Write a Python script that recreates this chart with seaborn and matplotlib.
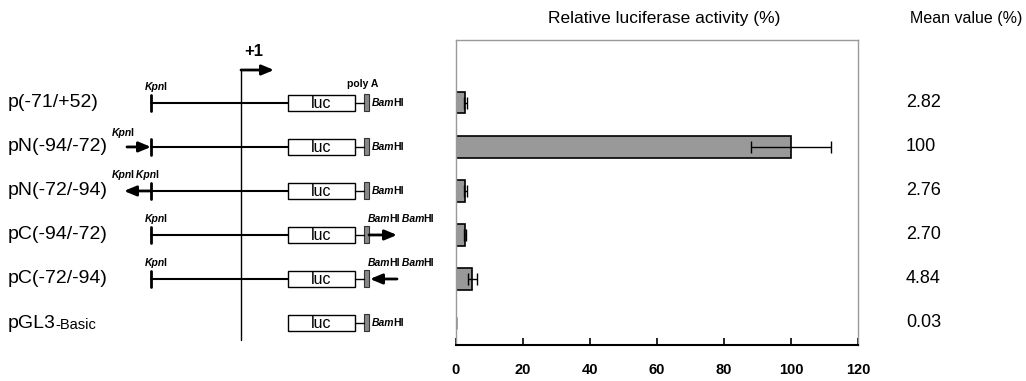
"""Promoter deletion constructs and relative luciferase activity."""

import matplotlib.pyplot as plt
import pandas as pd
import seaborn as sns
from matplotlib.patches import Rectangle

sns.set_theme(style="white")
plt.rcParams["font.family"] = ["Liberation Sans", "DejaVu Sans"]
plt.rcParams["text.color"] = "black"

# DATA
constructs = ["p(-71/+52)", "pN(-94/-72)", "pN(-72/-94)",
              "pC(-94/-72)", "pC(-72/-94)", "pGL3-Basic"]
activity = [2.82, 100, 2.76, 2.70, 4.84, 0.03]
errors = [0.4, 12, 0.5, 0.2, 1.3, 0.0]
mean_labels = ["2.82", "100", "2.76", "2.70", "4.84", "0.03"]
insert_site = ["", "N", "N", "C", "C", ""]  # where the -94/-72 fragment sits
insert_dir = ["", "fwd", "rev", "fwd", "rev", ""]
has_promoter = [True, True, True, True, True, False]
x_ticks = [0, 20, 40, 60, 80, 100, 120]

W, H = 1026, 381
fig = plt.figure(figsize=(W / 100, H / 100), dpi=100)

# BAR CHART
ax = fig.add_axes([456 / W, 36 / H, 402 / W, 305 / H])
df = pd.DataFrame({"Construct": constructs, "Activity": activity})
sns.barplot(data=df, x="Activity", y="Construct", orient="h", color="#999999",
            saturation=1, edgecolor="black", linewidth=1.2, width=0.48, ax=ax)
ax.errorbar(activity, range(len(activity)), xerr=errors, fmt="none",
            ecolor="black", elinewidth=1, capsize=4.3, capthick=1)
ax.set_xlim(0, 120)
ax.set_ylim(5.5, -1.43)
ax.set_xticks(x_ticks)
ax.set_xticklabels([str(t) for t in x_ticks], fontsize=10.5, fontweight="bold")
ax.set_yticks([])
ax.set(xlabel="", ylabel="")
ax.tick_params(axis="x", direction="in", length=5, width=1.2, pad=13,
               bottom=True, colors="black")
for side in ["top", "right", "left"]:
    ax.spines[side].set_color("#999999")
    ax.spines[side].set_linewidth(1)
ax.spines["bottom"].set_color("black")
ax.spines["bottom"].set_linewidth(1.5)

# row positions in pixels, taken from the bar axis
row_y = [H - ax.transData.transform((0, i))[1] for i in range(len(constructs))]

# DIAGRAM (pixel coordinates)
dg = fig.add_axes([0, 0, 1, 1], zorder=-1)
dg.set_xlim(0, W)
dg.set_ylim(H, 0)
dg.axis("off")

TXT = 14
SMALL = 7.5


def enzyme(x, y, names, va="bottom"):
    """Draw e.g. [('Kpn', 'I')] as italic + regular pieces, left to right."""
    anchor = None
    for k, (it, rest) in enumerate(names):
        if anchor is None:
            t = dg.text(x, y, it, fontsize=SMALL, style="italic",
                        fontweight="bold", va=va, ha="left")
        else:
            t = dg.annotate(" " + it, xy=(1, 0), xycoords=anchor, fontsize=SMALL,
                            style="italic", fontweight="bold", va="bottom", ha="left")
        anchor = dg.annotate(rest, xy=(1, 0), xycoords=t, xytext=(-1.2, 0),
                             textcoords="offset points", fontsize=SMALL,
                             fontweight="bold", va="bottom", ha="left")


def arrow(x0, x1, y):
    dg.annotate("", xy=(x1, y), xytext=(x0, y),
                arrowprops=dict(arrowstyle="-|>,head_length=0.6,head_width=0.25",
                                color="black", lw=2, shrinkA=0, shrinkB=0))


# transcription start
dg.plot([241, 241], [70, 340], color="black", lw=1)
arrow(241, 274, 70)
dg.text(254, 52, "+1", fontsize=12, fontweight="bold", ha="center", va="center")
dg.text(363, row_y[0] - 19, "poly A", fontsize=SMALL, fontweight="bold",
        ha="center", va="center")

for i, name in enumerate(constructs):
    y = row_y[i]
    if name == "pGL3-Basic":
        t = dg.text(8, y + 9, "pGL3", fontsize=TXT, va="bottom", ha="left")
        dg.annotate("-Basic", xy=(1, 0), xycoords=t, fontsize=10.5,
                    va="bottom", ha="left")
    else:
        dg.text(8, y, name, fontsize=TXT, va="center", ha="left")

    if has_promoter[i]:
        dg.plot([151, 288], [y, y], color="black", lw=1.5)
        dg.plot([151, 151], [y - 8, y + 8], color="black", lw=2)
    dg.add_patch(Rectangle((288, y - 8), 67, 16, facecolor="white",
                           edgecolor="black", lw=1))
    dg.text(321, y + 0.5, "luc", fontsize=11.5, ha="center", va="center")
    dg.plot([355, 364], [y, y], color="black", lw=1)
    dg.add_patch(Rectangle((364, y - 8.5), 5, 17, facecolor="#888888",
                           edgecolor="#333333", lw=0.8))

    if insert_site[i] == "N":
        if insert_dir[i] == "fwd":
            arrow(127, 151, y)
            enzyme(112, y - 9, [("Kpn", "I")])
        else:
            arrow(151, 124, y)
            enzyme(112, y - 11, [("Kpn", "I"), ("Kpn", "I")])
    elif has_promoter[i]:
        enzyme(145, y - 11, [("Kpn", "I")])

    if insert_site[i] == "C":
        if insert_dir[i] == "fwd":
            arrow(369, 397, y)
        else:
            arrow(397, 370, y)
        enzyme(368, y - 11, [("Bam", "HI"), ("Bam", "HI")])
    else:
        enzyme(372, y + 5, [("Bam", "HI")])

    dg.text(906, y, mean_labels[i], fontsize=13, ha="left", va="center")

dg.text(664, 18, "Relative luciferase activity (%)", fontsize=12.5,
        ha="center", va="center")
dg.text(1022, 18, "Mean value (%)", fontsize=11.5, ha="right", va="center")

plt.savefig("out.png", dpi=100)
